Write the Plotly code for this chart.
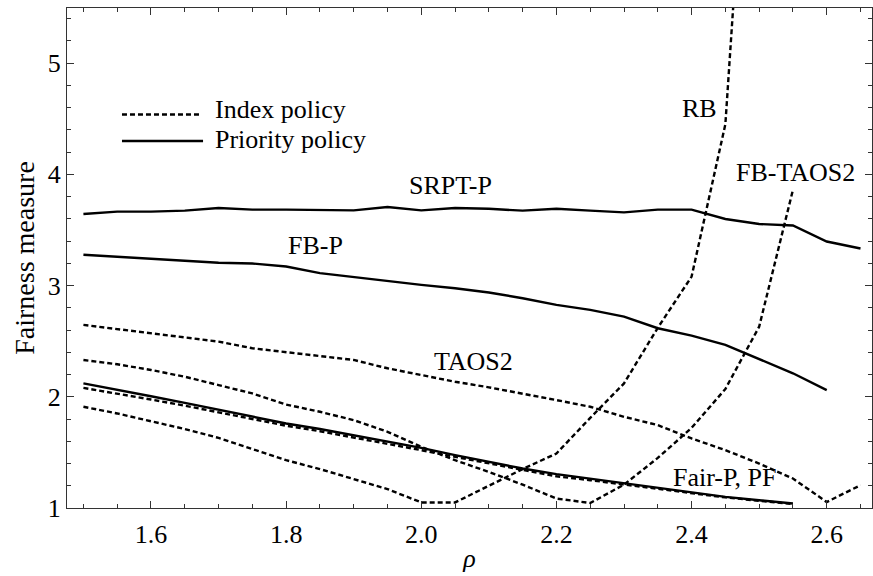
import plotly.graph_objects as go

# ---- data ----
rho_srpt = [1.5, 1.55, 1.6, 1.65, 1.7, 1.75, 1.8, 1.85, 1.9, 1.95, 2.0, 2.05,
            2.1, 2.15, 2.2, 2.25, 2.3, 2.35, 2.4, 2.45, 2.5, 2.55, 2.6, 2.65]
srpt_p = [3.643, 3.664, 3.664, 3.673, 3.697, 3.682, 3.682, 3.682, 3.676, 3.706, 3.676, 3.697,
          3.69, 3.673, 3.69, 3.673, 3.658, 3.682, 3.682, 3.598, 3.553, 3.540, 3.396, 3.333]

rho_fbp = [1.5, 1.55, 1.6, 1.65, 1.7, 1.75, 1.8, 1.85, 1.9, 1.95, 2.0, 2.05,
           2.1, 2.15, 2.2, 2.25, 2.3, 2.35, 2.4, 2.45, 2.5, 2.55, 2.6]
fb_p = [3.277, 3.259, 3.247, 3.225, 3.205, 3.198, 3.171, 3.111, 3.076, 3.036, 3.006, 2.976,
        2.937, 2.886, 2.826, 2.781, 2.721, 2.616, 2.550, 2.466, 2.340, 2.211, 2.060]

rho_taos2 = [1.5, 1.55, 1.6, 1.65, 1.7, 1.75, 1.8, 1.85, 1.9, 1.95, 2.0, 2.05,
             2.1, 2.15, 2.2, 2.25, 2.3, 2.35, 2.4, 2.45, 2.5, 2.55, 2.6, 2.65]
taos2 = [2.646, 2.61, 2.571, 2.535, 2.496, 2.436, 2.40, 2.367, 2.331, 2.256, 2.195, 2.135,
         2.085, 2.03, 1.97, 1.91, 1.82, 1.745, 1.625, 1.52, 1.40, 1.265, 1.054, 1.205]

rho_fbtaos2 = [1.5, 1.55, 1.6, 1.65, 1.7, 1.75, 1.8, 1.85, 1.9, 1.95, 2.0, 2.05,
               2.1, 2.15, 2.2, 2.25, 2.3, 2.35, 2.4, 2.45, 2.5, 2.55]
fb_taos2 = [2.331, 2.292, 2.241, 2.18, 2.105, 2.03, 1.93, 1.865, 1.79, 1.685, 1.55, 1.43,
            1.324, 1.21, 1.085, 1.045, 1.21, 1.45, 1.72, 2.07, 2.63, 3.86]

rho_rb = [1.5, 1.55, 1.6, 1.65, 1.7, 1.75, 1.8, 1.85, 1.9, 1.95, 2.0, 2.05,
          2.1, 2.15, 2.2, 2.25, 2.3, 2.35, 2.4, 2.45, 2.5]
rb = [1.91, 1.85, 1.78, 1.71, 1.63, 1.53, 1.43, 1.35, 1.26, 1.17, 1.05, 1.05,
      1.2, 1.35, 1.49, 1.81, 2.12, 2.62, 3.08, 4.45, 9.0]

rho_fair = [1.5, 1.55, 1.6, 1.65, 1.7, 1.75, 1.8, 1.85, 1.9, 1.95, 2.0, 2.05,
            2.1, 2.15, 2.2, 2.25, 2.3, 2.35, 2.4, 2.45, 2.5, 2.55]
fair_p = [2.12, 2.065, 2.005, 1.945, 1.885, 1.82, 1.76, 1.71, 1.655, 1.60, 1.54, 1.475,
          1.415, 1.355, 1.305, 1.265, 1.22, 1.18, 1.14, 1.10, 1.07, 1.04]
pf = [2.08, 2.03, 1.975, 1.92, 1.86, 1.80, 1.74, 1.69, 1.635, 1.58, 1.52, 1.46,
      1.40, 1.34, 1.285, 1.25, 1.21, 1.17, 1.13, 1.095, 1.065, 1.035]

labels = ["RB", "FB-TAOS2", "SRPT-P", "FB-P", "TAOS2", "Fair-P, PF"]
label_x = [2.411, 2.554, 2.043, 1.844, 2.077, 2.450]
label_y = [4.59, 4.02, 3.90, 3.36, 2.32, 1.277]

legend_names = ["Index policy", "Priority policy"]

FONT = "Liberation Serif, Times New Roman, serif"
DASH = "5px,3px"
LW = 2.4

fig = go.Figure()

def add(x, y, dashed):
    fig.add_trace(go.Scatter(x=x, y=y, mode="lines",
                             line=dict(color="black", width=LW, dash=DASH if dashed else "solid"),
                             showlegend=False, hoverinfo="skip"))

add(rho_srpt, srpt_p, False)
add(rho_fbp, fb_p, False)
add(rho_fair, fair_p, False)
add(rho_taos2, taos2, True)
add(rho_fbtaos2, fb_taos2, True)
add(rho_rb, rb, True)
add(rho_fair, pf, True)

for t, x, y in zip(labels, label_x, label_y):
    fig.add_annotation(x=x, y=y, text=t, showarrow=False, xanchor="center", yanchor="middle",
                       font=dict(family=FONT, size=26, color="black"))

# manual legend (paper coordinates)
legend_line_y = [0.787, 0.734]
legend_text_y = [0.796, 0.737]
for i, name in enumerate(legend_names):
    fig.add_shape(type="line", xref="paper", yref="paper", x0=0.0683, x1=0.166 if i == 0 else 0.169,
                  y0=legend_line_y[i], y1=legend_line_y[i],
                  line=dict(color="black", width=LW, dash=DASH if i == 0 else "solid"))
    fig.add_annotation(xref="paper", yref="paper", x=0.1814, y=legend_text_y[i], text=name,
                       showarrow=False, xanchor="left", yanchor="middle",
                       font=dict(family=FONT, size=26, color="black"))

axis_common = dict(showline=True, linecolor="#333", linewidth=1, mirror="ticks",
                   ticks="inside", ticklen=7, tickcolor="#333", tickwidth=1,
                   showgrid=False, zeroline=False,
                   tickfont=dict(family=FONT, size=26, color="black"))

fig.update_xaxes(range=[1.4757, 2.667], dtick=0.2, tick0=1.6, tickformat=".1f",
                 ticklabelstandoff=3,
                 minor=dict(dtick=0.05, ticks="inside", ticklen=4, tickcolor="#333", showgrid=False),
                 title=dict(text="<i>ρ</i>", font=dict(family=FONT, size=26, color="black"), standoff=0),
                 **axis_common)
fig.update_yaxes(range=[1, 5.495], dtick=1, tick0=1,
                 minor=dict(dtick=0.2, ticks="inside", ticklen=4, tickcolor="#333", showgrid=False),
                 title=dict(text="Fairness measure", font=dict(family=FONT, size=28, color="black"), standoff=4),
                 **axis_common)

fig.update_layout(width=873, height=576, margin=dict(l=67, r=1, t=8, b=68),
                  plot_bgcolor="white", paper_bgcolor="white",
                  font=dict(family=FONT, size=26, color="black"))

fig.write_html("out.html")
